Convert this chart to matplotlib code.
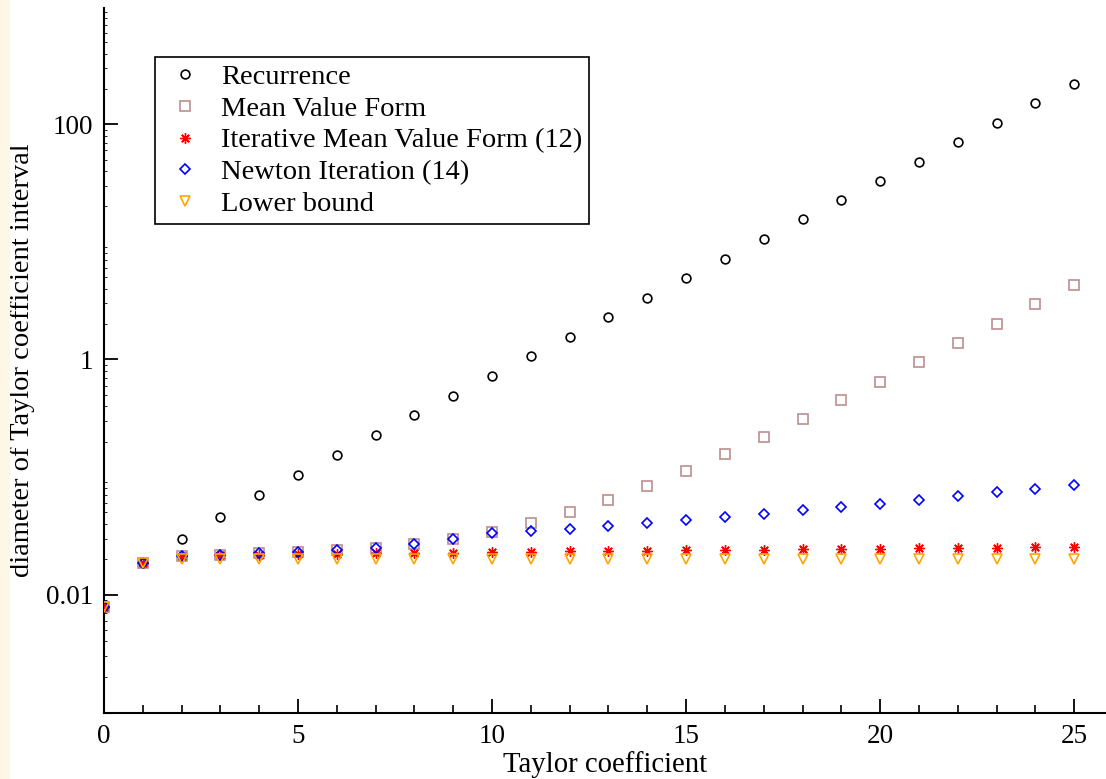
import matplotlib
matplotlib.use("Agg")
import matplotlib.pyplot as plt
from matplotlib.ticker import LogLocator, FixedLocator, NullFormatter, FixedFormatter
import matplotlib.patches as mpatches

plt.rcParams['font.family'] = ['Liberation Serif', 'DejaVu Serif']
plt.rcParams['mathtext.fontset'] = 'stix'

k = list(range(26))

recurrence = [0.0079, 0.0185, 0.0298, 0.046, 0.0704, 0.104, 0.154, 0.228, 0.337, 0.49,
              0.72, 1.07, 1.55, 2.30, 3.33, 4.93, 7.16, 10.6, 15.7, 22.7,
              32.7, 48.1, 70.7, 103, 151, 221]
mean_value = [0.0079, 0.0185, 0.0213, 0.0218, 0.0225, 0.0232, 0.024, 0.0251, 0.0272, 0.030,
              0.0343, 0.041, 0.0502, 0.0639, 0.084, 0.113, 0.157, 0.219, 0.312, 0.453,
              0.648, 0.947, 1.38, 2.02, 2.95, 4.30]
iter_mean_value = [0.0079, 0.0185, 0.0213, 0.0216, 0.0219, 0.0221, 0.0223, 0.0225, 0.0226, 0.0228,
                   0.0229, 0.0231, 0.0233, 0.0235, 0.0237, 0.0239, 0.024, 0.0241, 0.0243, 0.0244,
                   0.0245, 0.0247, 0.0249, 0.025, 0.0252, 0.0254]
newton = [0.0079, 0.0185, 0.0213, 0.0218, 0.0225, 0.0232, 0.024, 0.0251, 0.0272, 0.030,
          0.0335, 0.0348, 0.0364, 0.0386, 0.041, 0.0432, 0.046, 0.0489, 0.0522, 0.0557,
          0.0594, 0.0639, 0.069, 0.0743, 0.0797, 0.0861]
lower_bound = [0.0079, 0.0185, 0.0202, 0.0202, 0.0202, 0.0202, 0.0202, 0.0202, 0.0202, 0.0202,
               0.0202, 0.0202, 0.0202, 0.0202, 0.0202, 0.0202, 0.0202, 0.0202, 0.0202, 0.0202,
               0.0202, 0.0202, 0.0202, 0.0202, 0.0202, 0.0202]

labels = ["Recurrence", "Mean Value Form", "Iterative Mean Value Form (12)",
          "Newton Iteration (14)", "Lower bound"]
y_ticks = [0.01, 1, 100]
y_tick_labels = ["0.01", "1", "100"]
x_ticks = [0, 5, 10, 15, 20, 25]

fig = plt.figure(figsize=(11.06, 7.79), dpi=100)
# yellowish strip on the left edge
fig.patches.append(mpatches.Rectangle((0, 0), 10/1106, 1, transform=fig.transFigure,
                                      facecolor='#fdf8e6', edgecolor='none', zorder=0))
ax = fig.add_axes([104/1106, 1 - 713.3/779, 1 - 104/1106, (713.3 - 8)/779])
ax.set_facecolor('white')

mew = 1.2
ax.plot(k, recurrence, linestyle='none', marker='o', ms=6.3, mfc='none', mec='black', mew=mew, label=labels[0], zorder=2)
ax.plot(k, mean_value, linestyle='none', marker='s', ms=6.5, mfc='none', mec='#bc8f8f', mew=mew, label=labels[1], zorder=3)
ax.plot(k, iter_mean_value, linestyle='none', marker=(8, 2, 0), ms=7.5, mec='#ff0000', color='#ff0000', mew=1.0, label=labels[2], zorder=4)
ax.plot(k, newton, linestyle='none', marker='D', ms=4.6, mfc='none', mec='#0000ff', mew=mew, label=labels[3], zorder=5)
ax.plot(k, lower_bound, linestyle='none', marker='v', ms=6.5, mfc='none', mec='#ffa500', mew=mew, label=labels[4], zorder=6)

ax.set_yscale('log')
ax.set_xlim(0, 25.82)
ax.set_ylim(0.00098, 975)

for s in ['top', 'right']:
    ax.spines[s].set_visible(False)
for s in ['left', 'bottom']:
    ax.spines[s].set_linewidth(1.5)

ax.xaxis.set_major_locator(FixedLocator(x_ticks))
ax.xaxis.set_minor_locator(FixedLocator(list(range(26))))
ax.yaxis.set_major_locator(FixedLocator(y_ticks))
ax.yaxis.set_major_formatter(FixedFormatter(y_tick_labels))
ax.yaxis.set_minor_locator(LogLocator(base=10, subs=[2, 3, 4, 5, 6, 7, 8, 9], numticks=20))
ax.yaxis.set_minor_formatter(NullFormatter())

ax.tick_params(axis='both', which='major', direction='in', length=10, width=1.3, labelsize=19.5, pad=8)
ax.tick_params(axis='x', which='minor', direction='in', length=6, width=1.2)
ax.tick_params(axis='y', which='minor', direction='in', length=2, width=0.6)

ax.set_xlabel("Taylor coefficient", fontsize=20.7, labelpad=1)
ax.set_ylabel("diameter of Taylor coefficient interval", fontsize=20.5, labelpad=8)

h, l = ax.get_legend_handles_labels()
order = [l.index(x) for x in labels]
leg = ax.legend([h[i] for i in order], [l[i] for i in order], loc='upper left',
                bbox_to_anchor=(50.7/1002, 1 - 49.3/705.3), fontsize=20.5, frameon=True, fancybox=False,
                edgecolor='black', framealpha=1.0, markerscale=1.0, handlelength=1.62, handletextpad=0.46,
                labelspacing=0.2, borderpad=0.25, borderaxespad=0)
leg.get_frame().set_linewidth(1.2)

fig.savefig("out.png", dpi=100)
